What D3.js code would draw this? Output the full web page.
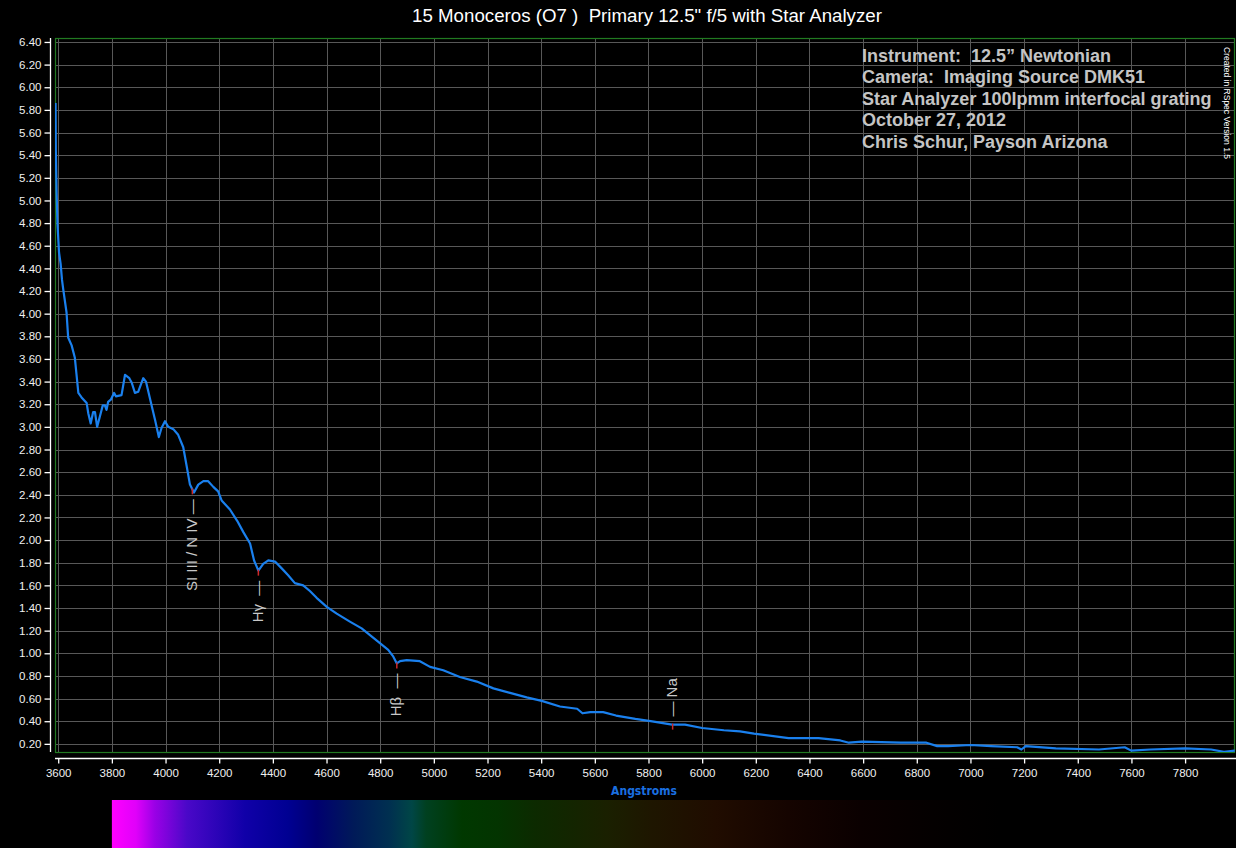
<!DOCTYPE html>
<html>
<head>
<meta charset="utf-8">
<script src="https://cdn.jsdelivr.net/npm/d3@7"></script>
<style>
  body { margin: 0; background: #000; }
  svg { display: block; }
</style>
</head>
<body>
<script>
// spectrum: wavelength (Angstrom) and relative flux
var waves = [3590, 3591, 3594, 3597, 3603, 3609, 3614, 3619, 3631, 3637, 3650, 3662, 3675, 3687, 3706, 3712,
  3721, 3730, 3737, 3745, 3755, 3766, 3774, 3780, 3786, 3796, 3808, 3815, 3836, 3849, 3865, 3874, 3886, 3898,
  3917, 3927, 3945, 3961, 3975, 3985, 3998, 4010, 4029, 4047, 4066, 4079, 4091, 4106, 4122, 4141, 4159, 4178,
  4196, 4209, 4240, 4267, 4290, 4315, 4330, 4346, 4364, 4383, 4408, 4433, 4457, 4482, 4513, 4538, 4563, 4601,
  4638, 4687, 4731, 4762, 4799, 4830, 4849, 4862, 4874, 4899, 4948, 4986, 5035, 5097, 5160, 5222, 5284, 5346,
  5402, 5470, 5534, 5554, 5583, 5631, 5679, 5751, 5808, 5888, 5936, 6000, 6081, 6141, 6193, 6322, 6434, 6515,
  6547, 6595, 6740, 6836, 6876, 6917, 7000, 7077, 7174, 7190, 7206, 7318, 7479, 7575, 7599, 7671, 7800, 7897,
  7945, 7985];
var flux = [5.86, 5.45, 5.07, 4.80, 4.54, 4.44, 4.30, 4.21, 4.01, 3.79, 3.72, 3.61, 3.30, 3.26, 3.21, 3.12,
  3.03, 3.13, 3.13, 3.00, 3.09, 3.19, 3.19, 3.15, 3.22, 3.24, 3.30, 3.27, 3.28, 3.46, 3.43, 3.39, 3.30, 3.31,
  3.43, 3.40, 3.22, 3.06, 2.91, 2.99, 3.05, 3.00, 2.98, 2.93, 2.82, 2.65, 2.49, 2.42, 2.49, 2.52, 2.52, 2.47,
  2.43, 2.35, 2.27, 2.17, 2.07, 1.97, 1.82, 1.73, 1.79, 1.82, 1.81, 1.75, 1.69, 1.62, 1.60, 1.55, 1.49, 1.41,
  1.35, 1.28, 1.22, 1.16, 1.09, 1.03, 0.97, 0.91, 0.93, 0.94, 0.93, 0.88, 0.85, 0.79, 0.75, 0.69, 0.65, 0.61,
  0.58, 0.53, 0.51, 0.47, 0.48, 0.48, 0.45, 0.42, 0.40, 0.37, 0.37, 0.34, 0.32, 0.31, 0.29, 0.25, 0.25, 0.23,
  0.21, 0.22, 0.21, 0.21, 0.18, 0.18, 0.19, 0.18, 0.17, 0.15, 0.18, 0.16, 0.15, 0.17, 0.14, 0.15, 0.16, 0.15,
  0.13, 0.14];

// marked lines
var lineNames = ["SI III / N IV \u2014", "H\u03b3  \u2014", "H\u03b2  \u2014", "\u2014 Na"];
var lineWaves = [4100, 4346, 4862, 5890];
var lineAbove = [false, false, false, true];

var xTicks = d3.range(3600, 7801, 200);
var yTicks = d3.range(0.2, 6.41, 0.2);

var infoLines = ["Instrument:  12.5\u201d Newtonian", "Camera:  Imaging Source DMK51",
  "Star Analyzer 100lpmm interfocal grating", "October 27, 2012", "Chris Schur, Payson Arizona"];

// colour strip under the axis
var specWaves = [3800, 3890, 3960, 4080, 4296, 4456, 4564, 4702, 4836, 4918, 4971, 5105, 5239, 5377, 5645,
  5809, 6052, 6320, 6592, 6860, 7110];
var specColors = ["#ff00ff", "#e000fa", "#9a00e6", "#4a08c8", "#1000a8", "#000092", "#000070", "#001a58",
  "#003050", "#004646", "#004020", "#003800", "#033400", "#0c2a00", "#1a2000", "#1e1600", "#200c00",
  "#150400", "#0a0000", "#040000", "#000000"];

var W = 1236, H = 848;
var pL = 55, pR = 1235, pT = 38, pB = 752;

var svg = d3.select("body").append("svg").attr("width", W).attr("height", H)
  .style("background", "#000");

var x = d3.scaleLinear().domain([3588, 7986]).range([pL, pR]);
var y = d3.scaleLinear().domain([0.128, 6.435]).range([pB, pT]);

// grid
svg.append("g").selectAll("line").data(yTicks).enter().append("line")
  .attr("x1", pL).attr("x2", pR)
  .attr("y1", d => Math.round(y(d)) + 0.5).attr("y2", d => Math.round(y(d)) + 0.5)
  .attr("stroke", "#585858").attr("stroke-width", 1);
svg.append("g").selectAll("line").data(xTicks).enter().append("line")
  .attr("y1", pT).attr("y2", pB)
  .attr("x1", d => Math.round(x(d)) + 0.5).attr("x2", d => Math.round(x(d)) + 0.5)
  .attr("stroke", "#585858").attr("stroke-width", 1);

// plot border
svg.append("rect").attr("x", pL + 0.5).attr("y", pT + 0.5)
  .attr("width", pR - pL - 1).attr("height", pB - pT)
  .attr("fill", "none").attr("stroke", "#217a21").attr("stroke-width", 1.2);

// y axis
var yAxis = d3.axisLeft(y).tickValues(yTicks).tickFormat(d3.format(".2f")).tickSize(6).tickSizeOuter(0);
var gy = svg.append("g").attr("transform", "translate(50.5,0)").call(yAxis);
gy.select(".domain").attr("d", "M0," + pT + "V" + pB);

// x axis
var xAxis = d3.axisBottom(x).tickValues(xTicks).tickFormat(d3.format("d")).tickSize(5).tickSizeOuter(0);
var gx = svg.append("g").attr("transform", "translate(0,758.5)").call(xAxis);
gx.select(".domain").attr("d", "M" + pL + ",0H" + W);

svg.selectAll(".domain, .tick line").attr("stroke", "#fff").attr("stroke-width", 1.3);
svg.selectAll(".tick text").attr("fill", "#f0f0f0")
  .style("font-family", "'Liberation Sans', Arial, sans-serif").style("font-size", "11.5px");
gy.selectAll(".tick text").attr("x", -9);
gx.selectAll(".tick text").attr("y", 10);

// spectrum line
svg.append("clipPath").attr("id", "plotclip").append("rect")
  .attr("x", pL).attr("y", pT).attr("width", pR - pL).attr("height", pB - pT);

var pts = waves.map((w, i) => [w, flux[i]]);
var line = d3.line().x(d => x(d[0])).y(d => y(d[1]));

svg.append("path").datum(pts).attr("clip-path", "url(#plotclip)")
  .attr("d", line).attr("fill", "none")
  .attr("stroke", "#1a80ee").attr("stroke-width", 2.2).attr("stroke-linejoin", "round");

// line markers and labels
function fluxAt(w) {
  var i = d3.bisector(d => d[0]).left(pts, w);
  if (i <= 0) return pts[0][1];
  var a = pts[i - 1], b = pts[i];
  return a[1] + (b[1] - a[1]) * (w - a[0]) / (b[0] - a[0]);
}

lineWaves.forEach(function(w, i) {
  var px = x(w), py = y(fluxAt(w));
  svg.append("line").attr("x1", px).attr("x2", px).attr("y1", py - 1).attr("y2", py + 5)
    .attr("stroke", "#d02828").attr("stroke-width", 1.5);
  var ty = lineAbove[i] ? py - 8 : py + 10;
  svg.append("text")
    .attr("transform", "translate(" + (px + 4.5) + "," + ty + ") rotate(-90)")
    .attr("text-anchor", lineAbove[i] ? "start" : "end")
    .attr("fill", "#c8c8c8").style("white-space", "pre")
    .style("font-family", "'Liberation Sans', Arial, sans-serif").style("font-size", "15px")
    .text(lineNames[i]);
});

// title
svg.append("text").attr("x", 647).attr("y", 22).attr("text-anchor", "middle")
  .attr("fill", "#fff").style("white-space", "pre")
  .style("font-family", "'Liberation Sans', Arial, sans-serif").style("font-size", "18.7px")
  .text("15 Monoceros (O7 )  Primary 12.5\" f/5 with Star Analyzer");

// info block
svg.append("g").selectAll("text").data(infoLines).enter().append("text")
  .attr("x", 862).attr("y", (d, i) => 61.5 + i * 21.5)
  .attr("fill", "#c4c4c4").style("white-space", "pre")
  .style("font-family", "'Liberation Sans', Arial, sans-serif").style("font-size", "18px")
  .style("font-weight", "bold")
  .text(d => d);

// version note
svg.append("text").attr("transform", "translate(1224,47) rotate(90)")
  .attr("fill", "#fff")
  .style("font-family", "'Liberation Sans', Arial, sans-serif").style("font-size", "8.5px")
  .text("Created in RSpec Version 1.5");

// axis title
svg.append("text").attr("x", 644).attr("y", 795).attr("text-anchor", "middle")
  .attr("fill", "#1a6fe0")
  .style("font-family", "'DejaVu Sans Condensed', 'DejaVu Sans', sans-serif")
  .style("font-stretch", "condensed").style("font-weight", "bold").style("font-size", "12px")
  .text("Angstroms");

// colour strip
var grad = svg.append("defs").append("linearGradient").attr("id", "spec")
  .attr("gradientUnits", "userSpaceOnUse")
  .attr("x1", x(specWaves[0])).attr("x2", x(specWaves[specWaves.length - 1]))
  .attr("y1", 0).attr("y2", 0);
var span = specWaves[specWaves.length - 1] - specWaves[0];
specWaves.forEach(function(w, i) {
  grad.append("stop").attr("offset", (w - specWaves[0]) / span).attr("stop-color", specColors[i]);
});
svg.append("rect").attr("x", x(specWaves[0])).attr("y", 800)
  .attr("width", W - x(specWaves[0])).attr("height", H - 800)
  .attr("fill", "url(#spec)");
</script>
</body>
</html>
